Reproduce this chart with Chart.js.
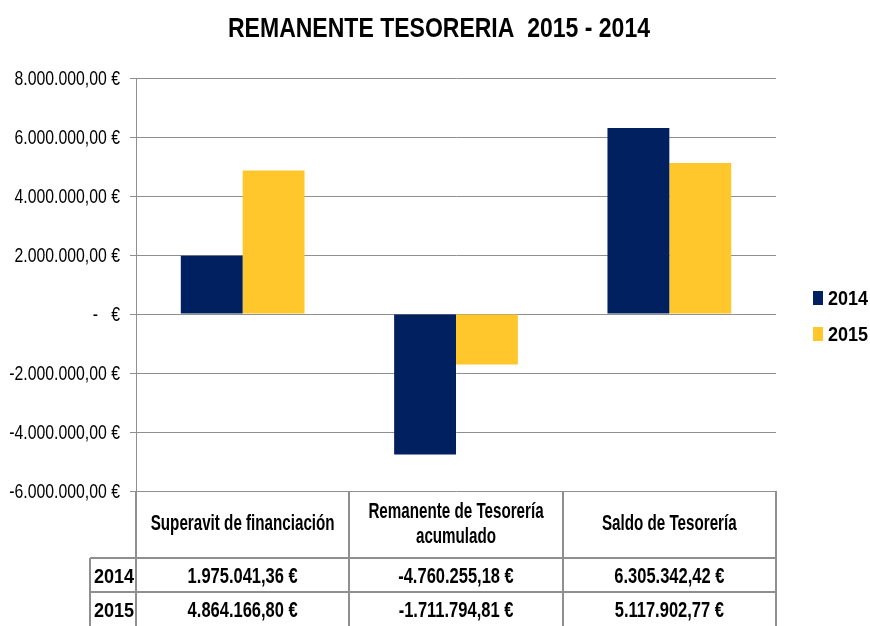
<!DOCTYPE html>
<html>
<head>
<meta charset="utf-8">
<script src="https://cdn.jsdelivr.net/npm/chart.js@4.4.1/dist/chart.umd.min.js"></script>
<style>
  html, body { margin: 0; padding: 0; background: #fff; }
  #wrap { width: 870px; height: 626px; }
</style>
</head>
<body>
<div id="wrap"><canvas id="chart" width="870" height="626"></canvas></div>
<script>
const FONT = "'Liberation Sans', Arial, sans-serif";

const chartTitle = 'REMANENTE TESORERIA  2015 - 2014';
const categories = [['Superavit de financiación'], ['Remanente de Tesorería', 'acumulado'], ['Saldo de Tesorería']];
const seriesNames = ['2014', '2015'];
const values2014 = [1975041.36, -4760255.18, 6305342.42];
const values2015 = [4864166.80, -1711794.81, 5117902.77];
const seriesColors = ['#002060', '#FFC72C'];
const yMin = -6000000, yMax = 8000000, yStep = 2000000;

const fmtEuro = (v) => {
    if (v === 0) return '-   €';
    const neg = v < 0;
    const parts = Math.abs(v).toFixed(2).split('.');
    const intPart = parts[0].replace(/\B(?=(\d{3})+(?!\d))/g, '.');
    return (neg ? '-' : '') + intPart + ',' + parts[1] + ' €';
};

const gridColor = '#8f8f8f';

// narrow text: Arial Narrow is not installed, so squeeze Liberation Sans horizontally
function narrowText(ctx, text, x, y, align, font, sx) {
    ctx.save();
    ctx.font = font;
    ctx.textAlign = align;
    ctx.textBaseline = 'alphabetic';
    ctx.translate(x, y);
    ctx.scale(sx, 1);
    ctx.fillText(text, 0, 0);
    ctx.restore();
}

const extrasPlugin = {
    id: 'extras',
    afterDraw(chart) {
        const ctx = chart.ctx;
        const area = chart.chartArea;
        const yScale = chart.scales.y;
        const n = categories.length;
        const cw = (area.right - area.left) / n;
        const headBottom = 558;
        const rowH = 34;
        const labelLeft = 90;
        const rows = [values2014, values2015];
        ctx.save();
        ctx.fillStyle = '#000';

        // title
        ctx.font = 'bold 28px ' + FONT;
        const tw = ctx.measureText(chartTitle).width;
        narrowText(ctx, chartTitle, 439, 37, 'center', ctx.font, 422 / tw);

        // y tick labels
        yScale.ticks.forEach(t => {
            const y = yScale.getPixelForValue(t.value);
            narrowText(ctx, fmtEuro(t.value), 120, y + 7, 'right', '20px ' + FONT, 0.79);
        });

        // legend
        seriesNames.forEach((name, i) => {
            const base = 305 + i * 36;
            ctx.fillStyle = seriesColors[i];
            ctx.fillRect(813, base - 14, 10, 14);
            ctx.fillStyle = '#000';
            narrowText(ctx, name, 828, base, 'left', 'bold 20px ' + FONT, 0.9);
        });

        // table lines (bottom edge falls outside the picture)
        ctx.strokeStyle = gridColor;
        ctx.lineWidth = 2;
        ctx.beginPath();
        for (let i = 0; i <= n; i++) {
            const x = Math.round(area.left + i * cw);
            ctx.moveTo(x, area.bottom);
            ctx.lineTo(x, 626);
        }
        for (let r = 0; r < rows.length; r++) {
            const y = headBottom + r * rowH;
            ctx.moveTo(labelLeft, y);
            ctx.lineTo(area.right + 1, y);
        }
        ctx.moveTo(labelLeft, headBottom);
        ctx.lineTo(labelLeft, 626);
        ctx.stroke();

        // header text
        categories.forEach((lines, i) => {
            const cx = area.left + (i + 0.5) * cw;
            lines.forEach((t, j) => {
                const base = 530 + (j - (lines.length - 1) / 2) * 25;
                narrowText(ctx, t, cx, base, 'center', 'bold 22px ' + FONT, 0.69);
            });
        });

        // rows
        rows.forEach((vals, r) => {
            const base = headBottom + r * rowH + 25;
            narrowText(ctx, seriesNames[r], (labelLeft + area.left) / 2 + 1, base, 'center', 'bold 21px ' + FONT, 0.86);
            vals.forEach((v, i) => {
                narrowText(ctx, fmtEuro(v), area.left + (i + 0.5) * cw, base, 'center', 'bold 22px ' + FONT, 0.75);
            });
        });
        ctx.restore();
    }
};

new Chart(document.getElementById('chart'), {
    type: 'bar',
    data: {
        labels: categories.map(c => c.join(' ')),
        datasets: [
            { label: seriesNames[0], data: values2014, backgroundColor: seriesColors[0] },
            { label: seriesNames[1], data: values2015, backgroundColor: seriesColors[1] }
        ]
    },
    options: {
        responsive: false,
        animation: false,
        layout: { padding: { left: 0, right: 94, top: 78, bottom: 135 } },
        datasets: { bar: { barPercentage: 1, categoryPercentage: 0.58 } },
        plugins: {
            legend: { display: false },
            title: { display: false },
            tooltip: { enabled: false }
        },
        scales: {
            x: { display: false },
            y: {
                min: yMin,
                max: yMax,
                afterFit(scale) { scale.width = 136; },
                border: { display: true, color: gridColor, width: 1 },
                grid: { color: gridColor, tickLength: 6, lineWidth: 1 },
                ticks: {
                    stepSize: yStep,
                    padding: 10,
                    color: 'rgba(0,0,0,0)',
                    font: { family: FONT, size: 18 },
                    callback: (v) => fmtEuro(v)
                }
            }
        }
    },
    plugins: [extrasPlugin]
});
</script>
</body>
</html>
